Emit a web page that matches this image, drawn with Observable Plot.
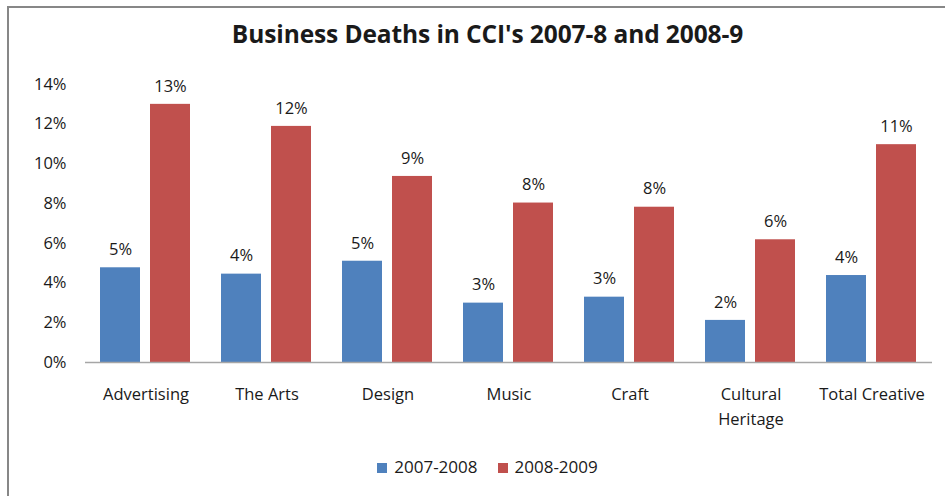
<!DOCTYPE html>
<html>
<head>
<meta charset="utf-8">
<script src="https://cdn.jsdelivr.net/npm/d3@7"></script>
<script src="https://cdn.jsdelivr.net/npm/@observablehq/plot@0.6"></script>
<style>
  html, body { margin: 0; padding: 0; background: #fff; }
  #wrap { position: relative; width: 945px; height: 496px; overflow: hidden; font-family: "Open Sans", Lato, sans-serif; color: #1a1a1a; }
  #frame { position: absolute; left: 7px; top: 6px; width: 960px; height: 520px; border-left: 2px solid #878787; border-top: 2px solid #878787; }
  #title { position: absolute; top: 17px; left: 0; width: 975px; text-align: center; font-size: 24.5px; font-weight: 700; letter-spacing: -0.1px; }
  #chart { position: absolute; top: 62px; left: 0; }
  #legend { position: absolute; top: 455px; left: 0; width: 975px; text-align: center; font-size: 17px; }
  .item { display: inline-block; margin: 0 10px; }
  .sw { display: inline-block; width: 10px; height: 10px; margin-right: 7px; vertical-align: 0px; }
</style>
</head>
<body>
<div id="wrap">
  <div id="frame"></div>
  <div id="title"></div>
  <div id="chart"></div>
  <div id="legend"></div>
</div>
<script>
const titleText = "Business Deaths in CCI's 2007-8 and 2008-9";
const categories = ["Advertising", "The Arts", "Design", "Music", "Craft", "Cultural Heritage", "Total Creative"];
const series = ["2007-2008", "2008-2009"];
const values2007_2008 = [4.77, 4.45, 5.10, 2.99, 3.29, 2.12, 4.38];
const values2008_2009 = [13.0, 11.89, 9.37, 8.03, 7.82, 6.18, 10.97];
const yTicks = [0, 2, 4, 6, 8, 10, 12, 14];
const colors = ["#4F81BD", "#C0504D"];

const data = [];
categories.forEach((c, i) => {
  data.push({category: c, series: series[0], value: values2007_2008[i]});
  data.push({category: c, series: series[1], value: values2008_2009[i]});
});

document.getElementById("title").textContent = titleText;

const chart = Plot.plot({
  width: 945,
  height: 378,
  marginLeft: 83,
  marginRight: 12,
  marginTop: 22,
  marginBottom: 78,
  style: {fontFamily: "'Open Sans', Lato, sans-serif", fontSize: "16.5px", color: "#1a1a1a", background: "transparent"},
  fx: {domain: categories, padding: 0, label: null, axis: null},
  x: {domain: series, paddingInner: 0.198, paddingOuter: 0.297, axis: null},
  y: {domain: [0, 14], ticks: yTicks, tickFormat: d => d + "%", tickSize: 0, tickPadding: 19, label: null},
  color: {domain: series, range: colors},
  marks: [
    Plot.axisFx({anchor: "bottom", tickSize: 0, tickPadding: 20, lineHeight: 1.5, label: null, fontSize: 16.5,
      tickFormat: d => d === "Cultural Heritage" ? "Cultural\nHeritage" : d}),
    Plot.barY(data, {fx: "category", x: "series", y: "value", fill: "series"}),
    Plot.text(data, {fx: "category", x: "series", y: "value", text: d => Math.round(d.value) + "%", dy: -18, fontSize: 16.5, fill: "#1a1a1a"}),
    Plot.ruleY([0], {stroke: "#a6a6a6", strokeWidth: 1.5})
  ]
});
document.getElementById("chart").appendChild(chart);

const legend = document.getElementById("legend");
series.forEach((s, i) => {
  const item = document.createElement("span");
  item.className = "item";
  const sw = document.createElement("span");
  sw.className = "sw";
  sw.style.background = colors[i];
  item.appendChild(sw);
  item.appendChild(document.createTextNode(s));
  legend.appendChild(item);
});
</script>
</body>
</html>
